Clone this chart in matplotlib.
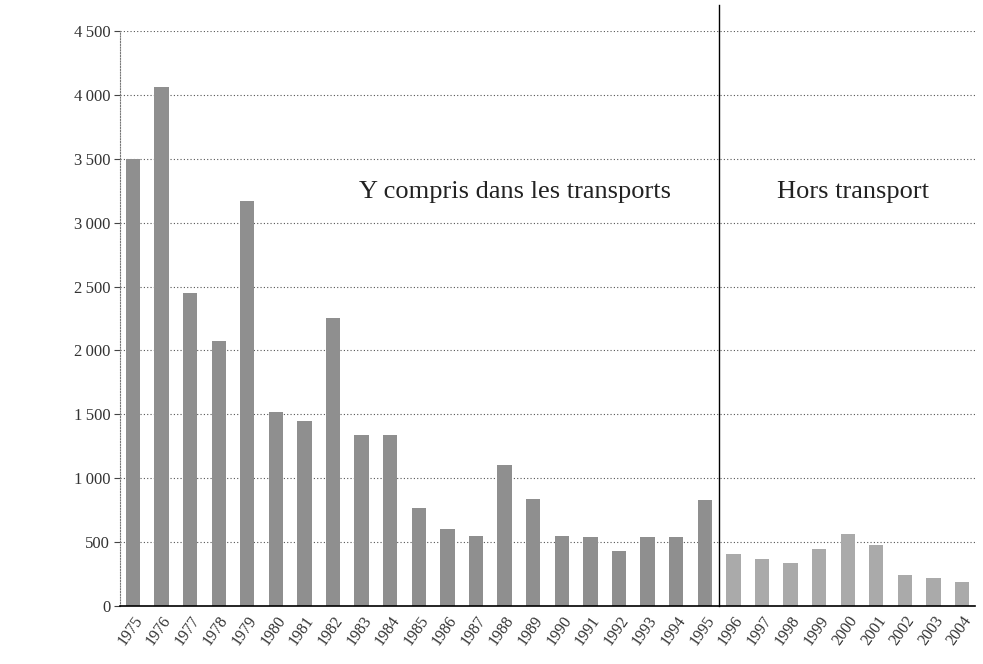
import matplotlib.pyplot as plt
from matplotlib.ticker import FuncFormatter

# Data
years = list(range(1975, 2005))
values = [3500, 4060, 2450, 2070, 3170, 1520, 1450, 2250, 1340, 1340,
          770, 600, 550, 1100, 840, 550, 540, 430, 540, 540,
          830, 410, 370, 340, 450, 560, 480, 240, 220, 190]
split_year = 1996
yticks = [0, 500, 1000, 1500, 2000, 2500, 3000, 3500, 4000, 4500]
label_left = "Y compris dans les transports"
label_right = "Hors transport"

fig = plt.figure(figsize=(9.83, 6.64), dpi=100)
ax = fig.add_axes([120 / 983, 58 / 664, 855 / 983, 575 / 664])

x = list(range(len(years)))
colors = ["#8f8f8f" if y < split_year else "#aaaaaa" for y in years]
ax.bar(x, values, width=0.5, color=colors, zorder=2)

ax.set_xlim(-0.45, len(years) - 0.55)
ax.set_ylim(0, 4500)
ax.set_yticks(yticks)
ax.yaxis.set_major_formatter(
    FuncFormatter(lambda v, p: f"{int(v):,}".replace(",", "\u2009")))
ax.set_xticks(x)
ax.set_xticklabels([str(y) for y in years], rotation=55, ha="right",
                   rotation_mode="anchor", family="Liberation Serif",
                   fontsize=11.5, color="#333333")
for lab in ax.get_yticklabels():
    lab.set_family("Liberation Serif")
    lab.set_fontsize(12)
    lab.set_color("#333333")

ax.grid(axis="y", linestyle=(0, (1, 2)), color="#555555", linewidth=0.8, zorder=0)

for side in ["top", "right"]:
    ax.spines[side].set_visible(False)
ax.spines["left"].set_linestyle((0, (1, 1.5)))
ax.spines["left"].set_color("#777777")
ax.spines["bottom"].set_color("black")
ax.spines["bottom"].set_linewidth(1.2)
ax.tick_params(axis="y", length=4, color="#444444", pad=3)
ax.tick_params(axis="x", length=0, pad=5)

# divider between the two series
split_idx = years.index(split_year) - 0.5
ax.plot([split_idx, split_idx], [0, 4700], color="black", linewidth=1,
        clip_on=False, zorder=3)

ax.text(13.35, 3240, label_left, ha="center", va="center",
        family="Liberation Serif", fontsize=19, color="#222222")
ax.text(25.2, 3240, label_right, ha="center", va="center",
        family="Liberation Serif", fontsize=19, color="#222222")

fig.savefig("out.png", dpi=100)
